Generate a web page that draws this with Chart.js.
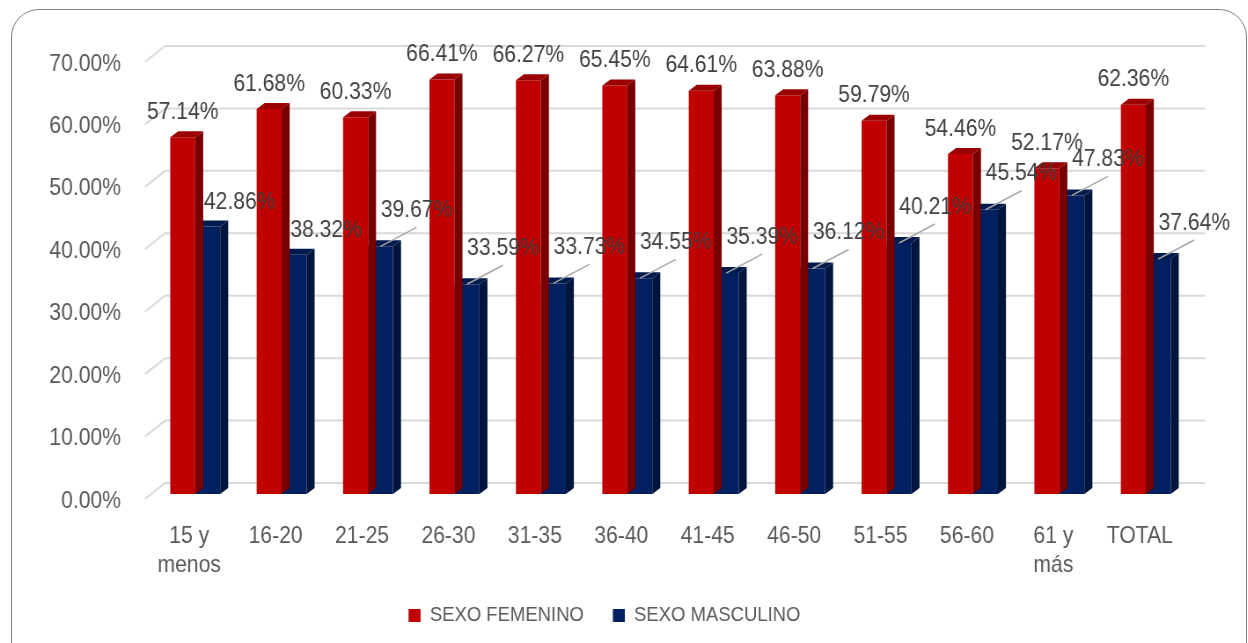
<!DOCTYPE html>
<html>
<head>
<meta charset="utf-8">
<script src="https://cdn.jsdelivr.net/npm/chart.js@4.4.1/dist/chart.umd.min.js"></script>
<style>
  html, body { margin: 0; padding: 0; background: #fff; overflow: hidden; }
  #marco {
    position: absolute; left: 11px; top: 9px; width: 1234px; height: 680px;
    border: 1.5px solid #808080; border-radius: 28px;
  }
  #myChart {
    position: absolute; left: 0; top: 0;
    transform: scaleX(0.88); transform-origin: 0 0;
  }
</style>
</head>
<body>
<div id="marco"></div>
<canvas id="myChart" width="1418" height="636"></canvas>
<script>
const categorias = [['15 y', 'menos'], '16-20', '21-25', '26-30', '31-35', '36-40', '41-45', '46-50', '51-55', '56-60', ['61 y', 'más'], 'TOTAL'];
const femenino = [57.14, 61.68, 60.33, 66.41, 66.27, 65.45, 64.61, 63.88, 59.79, 54.46, 52.17, 62.36];
const masculino = [42.86, 38.32, 39.67, 33.59, 33.73, 34.55, 35.39, 36.12, 40.21, 45.54, 47.83, 37.64];
const ticksY = [0, 10, 20, 30, 40, 50, 60, 70];

// el lienzo se comprime en horizontal (K), las medidas en x van divididas por K
const K = 0.88;
const fuente = '"Liberation Sans", Arial, sans-serif';
const caras = [
    { lado: '#780000', tapa: '#9a0000' },
    { lado: '#00143c', tapa: '#001a4e' }
];
const DX = 8 / K, DY = 6;

// rejilla en perspectiva
const rejilla = {
    id: 'rejilla',
    beforeDatasetsDraw(chart) {
        const c = chart.ctx;
        const y = chart.scales.y;
        const left = chart.chartArea.left;
        c.save();
        c.strokeStyle = '#d9d9d9';
        c.lineWidth = 2;
        ticksY.forEach(v => {
            const py = y.getPixelForValue(v);
            c.beginPath();
            c.moveTo(left - 7 / K, py + 5);
            c.lineTo(left + 13 / K, py - 11);
            c.lineTo(1205 / K, py - 11);
            c.stroke();
        });
        c.restore();
    }
};

// lados y tapas de las barras
const barras3d = {
    id: 'barras3d',
    afterDatasetDraw(chart, args) {
        const c = chart.ctx;
        const col = caras[args.index];
        c.save();
        args.meta.data.forEach(el => {
            const l = el.x - el.width / 2, r = el.x + el.width / 2;
            c.fillStyle = col.lado;
            c.beginPath();
            c.moveTo(r, el.y);
            c.lineTo(r + DX, el.y - DY);
            c.lineTo(r + DX, el.base - DY);
            c.lineTo(r, el.base);
            c.closePath();
            c.fill();
            c.fillStyle = col.tapa;
            c.beginPath();
            c.moveTo(l, el.y);
            c.lineTo(l + DX, el.y - DY);
            c.lineTo(r + DX, el.y - DY);
            c.lineTo(r, el.y);
            c.closePath();
            c.fill();
        });
        c.restore();
    }
};

// etiquetas de datos
const etiquetas = {
    id: 'etiquetas',
    afterDraw(chart) {
        const c = chart.ctx;
        c.save();
        c.font = '24px ' + fuente;
        c.fillStyle = '#404040';
        c.textAlign = 'center';
        c.textBaseline = 'middle';
        chart.getDatasetMeta(0).data.forEach((el, i) => {
            c.fillText(femenino[i].toFixed(2) + '%', el.x, el.y - 25);
        });
        chart.getDatasetMeta(1).data.forEach((el, i) => {
            const txt = masculino[i].toFixed(2) + '%';
            if (i < 2) {
                c.fillText(txt, el.x + 32 / K, el.y - 24);
            } else {
                const lx = el.x + 36 / K, ly = el.y - 36;
                c.strokeStyle = '#a6a6a6';
                c.lineWidth = 1.5;
                c.beginPath();
                c.moveTo(el.x, el.y);
                c.lineTo(lx, ly + 17);
                c.stroke();
                c.fillText(txt, lx, ly);
            }
        });
        c.restore();
    }
};

const ctx = document.getElementById('myChart').getContext('2d');
const myChart = new Chart(ctx, {
    type: 'bar',
    data: {
        labels: categorias,
        datasets: [{
            label: 'SEXO FEMENINO',
            data: femenino,
            backgroundColor: '#c00000',
            barPercentage: 1,
            categoryPercentage: 0.578
        }, {
            label: 'SEXO MASCULINO',
            data: masculino,
            backgroundColor: '#002060',
            barPercentage: 1,
            categoryPercentage: 0.578
        }]
    },
    options: {
        responsive: false,
        animation: false,
        layout: { padding: { left: 20 / K, top: 57, right: 1418 - 1189 / K, bottom: 0 } },
        plugins: {
            tooltip: { enabled: false },
            legend: {
                position: 'bottom',
                labels: {
                    boxWidth: 12 / K,
                    boxHeight: 13,
                    padding: 33,
                    color: '#595959',
                    font: { family: fuente, size: 21 }
                }
            }
        },
        scales: {
            x: {
                grid: { display: false },
                border: { display: false },
                afterFit: s => { s.height = 78; },
                ticks: {
                    color: '#595959',
                    padding: 20,
                    maxRotation: 0,
                    labelOffset: -6 / K,
                    font: { family: fuente, size: 24, lineHeight: 1.2 }
                }
            },
            y: {
                min: 0,
                max: 70,
                grid: { display: false },
                border: { display: false },
                afterFit: s => { s.width = 132 / K; },
                afterBuildTicks: s => { s.ticks = ticksY.map(v => ({ value: v })); },
                ticks: {
                    color: '#595959',
                    padding: 24 / K,
                    labelOffset: 7,
                    font: { family: fuente, size: 24 },
                    callback: v => v.toFixed(2) + '%'
                }
            }
        }
    },
    plugins: [rejilla, barras3d, etiquetas]
});
</script>
</body>
</html>
